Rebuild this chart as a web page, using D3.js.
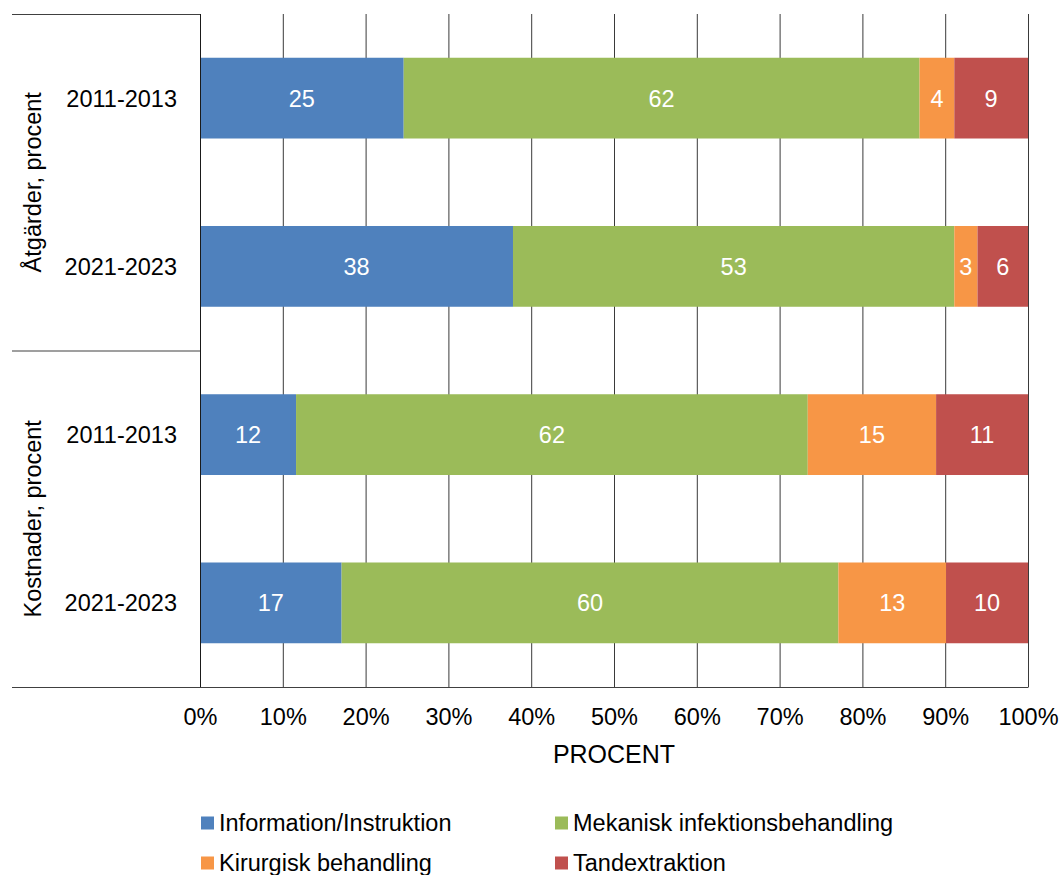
<!DOCTYPE html>
<html>
<head>
<meta charset="utf-8">
<script src="https://cdn.jsdelivr.net/npm/d3@7"></script>
<style>
  body { margin: 0; background: #fff; }
  svg { font-family: "Liberation Sans", Arial, sans-serif; }
</style>
</head>
<body>
<div id="chart"></div>
<script>
const width = 1061;
const height = 875;
const margin = { top: 14, bottom: 188, left: 200, right: 33 };
const fontSize = '23.5px';

// data
const groups = ["Åtgärder, procent", "Kostnader, procent"];
const rows = [
  { group: 0, period: "2011-2013" },
  { group: 0, period: "2021-2023" },
  { group: 1, period: "2011-2013" },
  { group: 1, period: "2021-2023" }
];
const seriesNames = ["Information/Instruktion", "Mekanisk infektionsbehandling", "Kirurgisk behandling", "Tandextraktion"];
const info = [24.6, 37.8, 11.6, 17.1];
const mekanisk = [62.3, 53.3, 61.8, 60.0];
const kirurgisk = [4.2, 2.8, 15.5, 13.0];
const extraktion = [8.9, 6.1, 11.1, 9.9];
const labelsInfo = [25, 38, 12, 17];
const labelsMek = [62, 53, 62, 60];
const labelsKir = [4, 3, 15, 13];
const labelsExt = [9, 6, 11, 10];
const ticks = [0, 0.1, 0.2, 0.3, 0.4, 0.5, 0.6, 0.7, 0.8, 0.9, 1];
const colors = ["#4f81bd", "#9bbb59", "#f79646", "#c0504d"];

const values = [info, mekanisk, kirurgisk, extraktion];
const labels = [labelsInfo, labelsMek, labelsKir, labelsExt];

const table = rows.map((r, i) => {
  const o = { key: i };
  seriesNames.forEach((s, j) => { o[s] = values[j][i]; o[s + "_lbl"] = labels[j][i]; });
  return o;
});

const svg = d3.select('#chart')
  .append('svg')
  .attr('width', width)
  .attr('height', height);

const x = d3.scaleLinear()
  .domain([0, 1])
  .range([margin.left, width - margin.right]);

const y = d3.scaleBand()
  .domain(d3.range(rows.length))
  .range([margin.top, height - margin.bottom])
  .paddingInner(0.52)
  .paddingOuter(0.26);

// gridlines
svg.append('g')
  .selectAll('line')
  .data(ticks)
  .join('line')
    .attr('x1', d => x(d) + 0.5)
    .attr('x2', d => x(d) + 0.5)
    .attr('y1', margin.top)
    .attr('y2', height - margin.bottom)
    .attr('stroke', '#3a3a3a')
    .attr('stroke-width', 1);

// stacked bars (normalized to 100%)
const stack = d3.stack().keys(seriesNames).offset(d3.stackOffsetExpand);
const stacked = stack(table);

const layer = svg.append('g')
  .selectAll('g')
  .data(stacked)
  .join('g')
    .attr('fill', (d, i) => colors[i]);

layer.selectAll('rect')
  .data(d => d.map(p => ({ p, key: d.key })))
  .join('rect')
    .attr('x', d => x(d.p[0]))
    .attr('y', d => y(d.p.data.key))
    .attr('width', d => x(d.p[1]) - x(d.p[0]))
    .attr('height', y.bandwidth());

layer.selectAll('text')
  .data(d => d.map(p => ({ p, key: d.key })))
  .join('text')
    .attr('x', d => (x(d.p[0]) + x(d.p[1])) / 2)
    .attr('y', d => y(d.p.data.key) + y.bandwidth() / 2)
    .attr('dy', '0.36em')
    .attr('text-anchor', 'middle')
    .attr('fill', '#fff')
    .attr('font-size', fontSize)
    .text(d => d.p.data[d.key + "_lbl"]);

// left axis structure
svg.append('line')
  .attr('x1', margin.left + 0.5).attr('x2', margin.left + 0.5)
  .attr('y1', margin.top).attr('y2', height - margin.bottom)
  .attr('stroke', '#1a1a1a');

const groupEdges = [margin.top, (margin.top + height - margin.bottom) / 2, height - margin.bottom];
svg.append('g')
  .selectAll('line')
  .data(groupEdges)
  .join('line')
    .attr('x1', 12)
    .attr('x2', (d, i) => i === 2 ? x(1) + 0.5 : margin.left)
    .attr('y1', d => d + 0.5)
    .attr('y2', d => d + 0.5)
    .attr('stroke', '#404040')
    .attr('stroke-width', 1.2);

// period labels
svg.append('g')
  .selectAll('text')
  .data(rows)
  .join('text')
    .attr('x', 177)
    .attr('y', (d, i) => y(i) + y.bandwidth() / 2)
    .attr('dy', '0.36em')
    .attr('text-anchor', 'end')
    .attr('font-size', fontSize)
    .attr('fill', '#000')
    .text(d => d.period);

// group labels
svg.append('g')
  .selectAll('text')
  .data(groups)
  .join('text')
    .attr('transform', (d, i) => `translate(33, ${(groupEdges[i] + groupEdges[i + 1]) / 2}) rotate(-90)`)
    .attr('dy', '0.36em')
    .attr('text-anchor', 'middle')
    .attr('font-size', fontSize)
    .attr('fill', '#000')
    .text(d => d);

// x axis tick labels
const xAxis = d3.axisBottom(x)
  .tickValues(ticks)
  .tickFormat(d3.format('.0%'))
  .tickSize(0)
  .tickPadding(21);

svg.append('g')
  .attr('transform', `translate(0, ${height - margin.bottom})`)
  .call(xAxis)
  .call(g => g.select('.domain').remove())
  .call(g => g.selectAll('text')
    .attr('font-size', fontSize)
    .attr('fill', '#000')
    .attr('font-family', '"Liberation Sans", Arial, sans-serif'));

svg.append('text')
  .attr('x', (x(0) + x(1)) / 2)
  .attr('y', 763)
  .attr('text-anchor', 'middle')
  .attr('font-size', '25px')
  .attr('fill', '#000')
  .text('PROCENT');

// legend
const legendPos = [[201, 823], [555, 823], [201, 863], [555, 863]];
const legend = svg.append('g')
  .selectAll('g')
  .data(seriesNames)
  .join('g')
    .attr('transform', (d, i) => `translate(${legendPos[i][0]}, ${legendPos[i][1]})`);

legend.append('rect')
  .attr('x', 0).attr('y', -6.5)
  .attr('width', 13).attr('height', 13)
  .attr('fill', (d, i) => colors[i]);

legend.append('text')
  .attr('x', 18)
  .attr('dy', '0.36em')
  .attr('font-size', fontSize)
  .attr('fill', '#000')
  .text(d => d);
</script>
</body>
</html>
